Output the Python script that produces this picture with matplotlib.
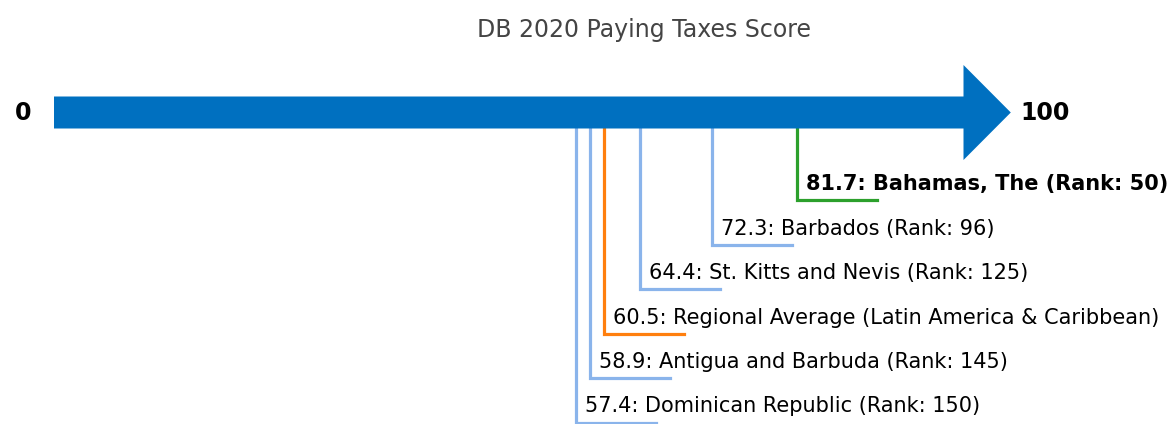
import matplotlib.pyplot as plt
from matplotlib.patches import FancyArrow

# values
names = ['Bahamas, The', 'Barbados', 'St. Kitts and Nevis',
         'Regional Average (Latin America & Caribbean)',
         'Antigua and Barbuda', 'Dominican Republic']
scores = [81.7, 72.3, 64.4, 60.5, 58.9, 57.4]
ranks = [50, 96, 125, None, 145, 150]
kinds = ['focus', 'peer', 'peer', 'average', 'peer', 'peer']

title = 'DB 2020 Paying Taxes Score'
scale_min, scale_max = 0, 100

colors = {'focus': '#2ca02c', 'peer': '#8ab4eb', 'average': '#ff7f0e'}

# x is in score units, y is in pixel rows (top = 0)
px_per_unit = 9.095
x0_px = 54
W, H = 1168, 424

fig = plt.figure(figsize=(W / 100, H / 100), dpi=100)
ax = fig.add_axes([0, 0, 1, 1])
ax.set_xlim(-x0_px / px_per_unit, (W - x0_px) / px_per_unit)
ax.set_ylim(H, 0)
ax.axis('off')

arrow_y = 112.5
arrow = FancyArrow(scale_min, arrow_y, scale_max + 5.2, 0, width=32,
                   head_width=95, head_length=5.2, length_includes_head=True,
                   color='#0070c0', lw=0, zorder=3)
ax.add_patch(arrow)

ax.text(scale_min - 2.5, arrow_y, str(scale_min), ha='right', va='center',
        fontsize=17, fontweight='bold')
ax.text(scale_max + 6.3, arrow_y, str(scale_max), ha='left', va='center',
        fontsize=17, fontweight='bold')

ax.text(64.9, 30, title, ha='center', va='center', fontsize=17, color='#444444')

level0 = 200
step = 44.5
seg = 8.8
for i, (name, s, r, k) in enumerate(zip(names, scores, ranks, kinds)):
    y = level0 + i * step
    c = colors[k]
    ax.plot([s, s, s + seg], [arrow_y, y, y], color=c, lw=2.3,
            solid_joinstyle='miter', zorder=2)
    label = f'{s}: {name}' if r is None else f'{s}: {name} (Rank: {r})'
    ax.text(s + 1.0, y - 6, label, ha='left', va='bottom', fontsize=15,
            fontweight='bold' if k == 'focus' else 'normal')

fig.savefig('out.png', dpi=100)
